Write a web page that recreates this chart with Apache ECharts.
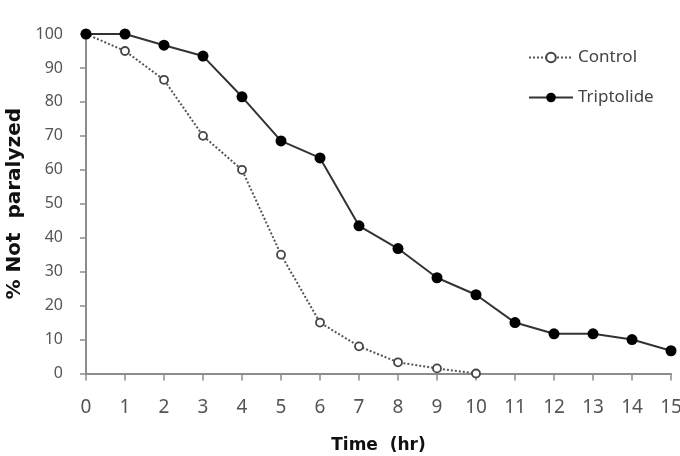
<!DOCTYPE html>
<html><head><meta charset="utf-8">
<script src="https://cdn.jsdelivr.net/npm/echarts@6/dist/echarts.min.js"></script>
<style>html,body{margin:0;padding:0;background:#fff}#c{width:680px;height:456px}</style>
</head><body><div id="c"></div>
<script>
const hours = [0,1,2,3,4,5,6,7,8,9,10,11,12,13,14,15];
const controlValues = [100,95,86.5,70,60,35,15,8,3.3,1.5,0];
const triptolideValues = [100,100,96.7,93.5,81.5,68.5,63.5,43.5,36.8,28.2,23.2,15,11.7,11.7,10,6.7];
const seriesNames = ['Control','Triptolide'];

const chart = echarts.init(document.getElementById('c'), null, {renderer:'canvas'});
const font = 'Noto Sans';
const boldFont = 'DejaVu Sans';
chart.setOption({
  animation:false,
  backgroundColor:'#fff',
  grid:{left:86,right:9,top:34,bottom:82.5,containLabel:false,outerBoundsMode:'none'},
  legend:{
    orient:'vertical', left:528, top:49, padding:0, itemWidth:44, itemHeight:12, itemGap:23,
    textStyle:{fontFamily:font,fontSize:17,color:'#444'},
    data:seriesNames
  },
  xAxis:{
    type:'value', min:0, max:15, interval:1,
    name:'Time  (hr)', nameLocation:'middle', nameGap:64,
    nameTextStyle:{fontFamily:boldFont,fontSize:17,fontWeight:'bold',color:'#111'},
    axisLine:{lineStyle:{color:'#8c8c8c',width:2}},
    axisTick:{show:true,inside:false,length:7,lineStyle:{color:'#8c8c8c',width:1.5}},
    axisLabel:{fontFamily:font,fontSize:19,color:'#555',margin:25},
    splitLine:{show:false}
  },
  yAxis:{
    type:'value', min:0, max:100, interval:10,
    name:'% Not  paralyzed', nameLocation:'middle', nameGap:61, nameRotate:90,
    nameTextStyle:{fontFamily:boldFont,fontSize:20,fontWeight:'bold',color:'#111'},
    axisLine:{show:true,lineStyle:{color:'#8c8c8c',width:2}},
    axisTick:{show:true,length:6,lineStyle:{color:'#8c8c8c',width:1.5}},
    axisLabel:{fontFamily:font,fontSize:16,color:'#555',margin:23},
    splitLine:{show:false}
  },
  series:[
    {
      name:seriesNames[0], type:'line',
      data:controlValues.map((v,i)=>[hours[i],v]),
      symbol:'circle', symbolSize:8,
      itemStyle:{color:'#fff',borderColor:'#444',borderWidth:1.8},
      lineStyle:{color:'#555',width:2,type:[2,2]},
      z:2
    },
    {
      name:seriesNames[1], type:'line',
      data:triptolideValues.map((v,i)=>[hours[i],v]),
      symbol:'circle', symbolSize:11,
      itemStyle:{color:'#000',borderColor:'#000',borderWidth:0},
      lineStyle:{color:'#333',width:2},
      z:3
    }
  ]
});
</script></body></html>
